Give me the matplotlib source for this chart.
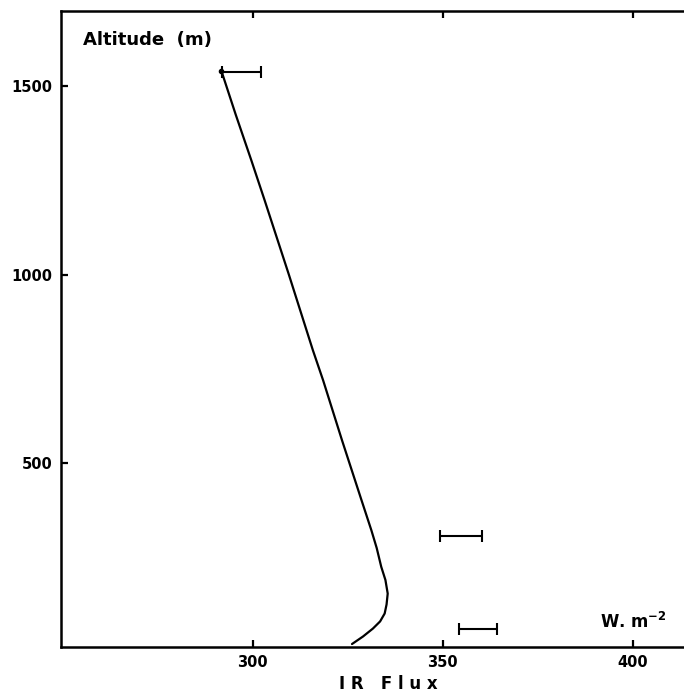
import matplotlib
matplotlib.use("Agg")
import matplotlib.pyplot as plt

# IR flux profile (W m-2) vs altitude (m)
flux = [291.7, 295.5, 299.6, 303.1, 309.5, 315.8, 318.5, 323.5, 328.6,
        331.2, 332.6, 333.8, 334.9, 335.5, 335.2, 334.7, 333.5, 331.6, 329.0, 326.1]
alt = [1542, 1425, 1304, 1198, 1000, 800, 720, 560, 402,
       322, 275, 225, 190, 154, 125, 101, 80, 61, 40, 20]

# horizontal error bars: centre, half width, altitude
err_x = [297.0, 354.8, 359.2]
err_half = [5.25, 5.5, 5.0]
err_alt = [1538, 306, 61]

xticks = [300, 350, 400]
yticks = [500, 1000, 1500]

plt.rcParams["font.family"] = "DejaVu Sans"
plt.rcParams["font.weight"] = "bold"

fig = plt.figure(figsize=(6.84, 6.95), dpi=100)
ax = fig.add_axes([0.0892, 0.069, 0.9108, 0.915])

ax.plot(flux, alt, color="black", lw=1.6, solid_capstyle="round")
ax.plot([flux[0]], [alt[0]], "o", color="black", ms=3)
ax.errorbar(err_x, err_alt, xerr=err_half, fmt="none", ecolor="black",
            elinewidth=1.5, capsize=4, capthick=1.5)

ax.set_xlim(249.5, 413.5)
ax.set_ylim(12, 1700)
ax.set_xticks(xticks)
ax.set_yticks(yticks)
ax.tick_params(direction="in", length=5, width=1.6, top=True, right=False,
               labelsize=10.5, pad=6)
for lab in ax.get_xticklabels() + ax.get_yticklabels():
    lab.set_fontweight("bold")

for s in ["left", "bottom", "top"]:
    ax.spines[s].set_linewidth(1.8)
ax.spines["right"].set_visible(False)

ax.text(0.035, 0.955, "Altitude  (m)", transform=ax.transAxes,
        fontsize=13, fontweight="bold", va="center", ha="left")
ax.text(0.865, 0.04, r"W. m$^{\mathbf{-2}}$", transform=ax.transAxes,
        fontsize=12, fontweight="bold", va="center", ha="left")
fig.text(388 / 684, 1 - 684 / 695, "I R   F l u x", fontsize=12,
         fontweight="bold", ha="center", va="center")

plt.savefig("out.png", dpi=100)
